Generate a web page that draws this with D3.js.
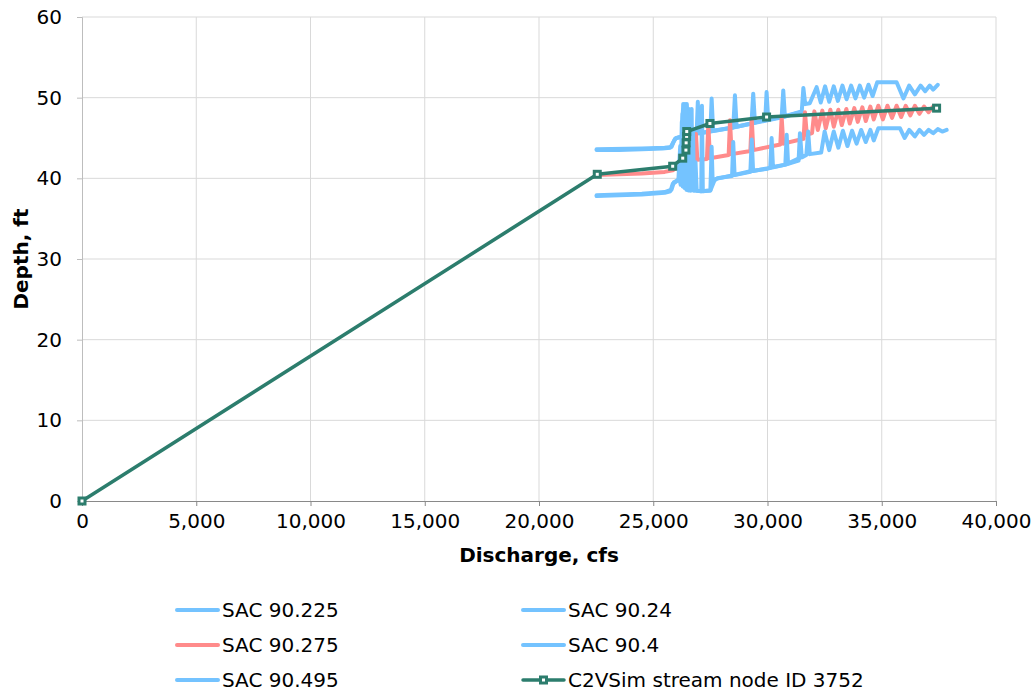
<!DOCTYPE html>
<html>
<head>
<meta charset="utf-8">
<script src="https://cdn.jsdelivr.net/npm/d3@7"></script>
<style>
  body { margin: 0; background: #fff; }
  text { font-family: "DejaVu Sans", Verdana, sans-serif; }
</style>
</head>
<body>
<div id="chart"></div>
<script>
// rating curve data, [discharge cfs, depth ft]
const sac90225 = [[22520,43.5],[23500,43.5],[24500,43.6],[25400,43.7],[25750,43.8],[25900,44.6],[26000,45.0],[26250,45.1],
  [26300,48.5],[26340,45.2],[26380,49.0],[26420,45.3],[26470,49.2],[26520,45.4],[26560,48.6],[26620,45.5],
  [26900,45.6],[26950,49.5],[27000,45.6],[27500,45.8],[27555,49.9],[27620,45.9],[28500,46.3],[28575,50.3],[28650,46.4],
  [29300,46.8],[29375,50.5],[29450,46.9],[29900,47.2],[29960,50.7],[30030,47.3],[30620,47.6],[30690,50.9],[30760,47.7],
  [31500,48.3],[31570,51.2],[31650,49.2],[31850,49.3],[32150,51.3],[32330,49.4],[32520,51.4],[32700,49.5],[32900,51.4],
  [33080,49.6],[33280,51.5],[33460,49.8],[33660,51.5],[33850,49.9],[34040,51.5],[34230,50.0],[34420,51.6],[34600,50.2],
  [34800,51.9],[35650,51.9],[35950,49.9],[36200,51.5],[36450,50.4],[36700,51.5],[36900,50.8],[37100,51.5],[37250,51.0],[37450,51.6]];

const sac9024 = [[22520,43.6],[24500,43.7],[25500,43.8],[25800,43.9],[25950,44.9],[26100,45.1],[26270,45.2],[26310,49.2],
  [26360,45.3],[26430,48.9],[26490,45.4],[26600,45.5],[27000,45.6],[27700,45.9],[28500,46.3],[29300,46.8],[30000,47.2],
  [30700,47.6],[31450,48.2]];

const sac90275 = [[22520,40.4],[23500,40.5],[24500,40.6],[25500,40.8],[25850,41.0],[26050,41.4],[26250,41.6],[26330,44.5],
  [26380,41.7],[26470,46.8],[26520,41.9],[26620,46.2],[26680,42.1],[26800,42.2],[26870,45.5],[26930,42.3],[27350,42.4],
  [27410,46.8],[27480,42.5],[28300,42.9],[28360,47.2],[28430,43.0],[29250,43.4],[29310,47.4],[29380,43.5],[30560,44.2],
  [30620,47.6],[30690,44.3],[31580,44.9],[31640,48.2],[31720,45.4],[31950,45.6],[32050,48.3],[32200,46.0],[32400,48.4],
  [32550,46.2],[32750,48.5],[32900,46.4],[33100,48.5],[33250,46.6],[33450,48.6],[33600,46.8],[33800,48.7],[33950,47.0],
  [34150,48.8],[34300,47.1],[34500,48.9],[34650,47.3],[34850,49.0],[35050,47.3],[35250,49.0],[35450,47.5],[35650,49.0],
  [35850,47.6],[36050,49.0],[36250,47.8],[36450,49.0],[36650,48.0],[36850,48.9],[37050,48.2],[37250,48.9],[37450,48.7]];

const sac904 = [[22520,37.8],[23500,37.9],[24500,38.0],[25500,38.2],[25750,38.4],[25850,39.3],[26000,39.6],[26150,40.0],
  [26200,39.2],[26250,47.0],[26290,39.0],[26330,48.5],[26370,38.8],[26410,49.0],[26450,38.6],[26500,48.2],[26540,38.5],
  [26600,47.0],[26640,38.5],[26700,44.5],[26760,38.5],[27100,38.4],[27130,49.0],[27170,38.4],[27500,38.5],[27555,43.9],
  [27600,39.6],[27800,40.0],[28450,40.3],[28500,44.5],[28560,40.4],[29250,40.8],[29310,44.8],[29370,40.9],[30120,41.3],
  [30180,45.0],[30240,41.4],[30780,41.7],[30840,45.4],[30900,41.8],[31360,42.2],[31420,45.6],[31500,42.6],[31700,42.9],
  [31780,45.8],[31850,43.0],[32350,43.2],[32500,45.8],[32700,43.5],[32900,45.8],[33100,43.8],[33300,45.9],[33500,44.0],
  [33700,45.9],[33900,44.3],[34100,46.0],[34300,44.5],[34500,46.0],[34650,44.7],[34850,46.2],[35800,46.2],[36000,45.0],
  [36200,46.0],[36450,45.2],[36650,46.0],[36850,45.4],[37050,46.0],[37250,45.6],[37450,46.1],[37650,45.8],[37840,46.0]];

const sac90495 = [[22520,37.9],[24500,38.1],[25500,38.3],[25800,38.6],[25900,39.5],[26100,39.8],[26180,44.0],[26220,39.4],
  [26280,48.0],[26310,40.5],[26340,47.5],[26360,38.9],[26390,49.2],[26420,39.5],[26450,47.8],[26480,38.6],[26520,45.0],
  [26560,46.5],[26590,39.0],[26620,48.0],[26650,38.5],[26680,48.6],[26710,40.0],[26740,46.0],[26780,38.5],[26850,42.0],
  [26900,38.5],[27100,38.4],[27500,38.5],[27700,39.9],[28500,40.4],[29300,40.9],[30000,41.2],[30800,41.7],[31400,42.5]];

const c2vsim = [[0,0],[22550,40.5],[25850,41.5],[26290,42.5],[26430,43.5],[26440,44.4],[26460,45.2],[26465,45.8],
  [27480,46.8],[29960,47.6],[37400,48.7]];

const xTicks = [0, 5000, 10000, 15000, 20000, 25000, 30000, 35000, 40000];
const yTicks = [0, 10, 20, 30, 40, 50, 60];

const blue = "#74c3ff", red = "#ff8b8b", green = "#2c7d6d";

const series = [
  { name: "SAC 90.225", data: sac90225, color: blue },
  { name: "SAC 90.24", data: sac9024, color: blue },
  { name: "SAC 90.275", data: sac90275, color: red },
  { name: "SAC 90.4", data: sac904, color: blue },
  { name: "SAC 90.495", data: sac90495, color: blue }
];

const width = 1035, height = 692;
const plot = { left: 82, right: 996, top: 17, bottom: 501 };

const svg = d3.select("#chart").append("svg")
  .attr("width", width)
  .attr("height", height);

const x = d3.scaleLinear().domain([0, 40000]).range([plot.left, plot.right]);
const y = d3.scaleLinear().domain([0, 60]).range([plot.bottom, plot.top]);

// grid
svg.append("g").selectAll("line.v")
  .data(xTicks.slice(1))
  .enter().append("line")
    .attr("x1", d => x(d)).attr("x2", d => x(d))
    .attr("y1", plot.top).attr("y2", plot.bottom)
    .style("stroke", "#d9d9d9");
svg.append("g").selectAll("line.h")
  .data(yTicks.slice(1))
  .enter().append("line")
    .attr("x1", plot.left).attr("x2", plot.right)
    .attr("y1", d => y(d)).attr("y2", d => y(d))
    .style("stroke", "#d9d9d9");

// axes
const xAxis = svg.append("g")
  .attr("transform", `translate(0,${plot.bottom})`)
  .call(d3.axisBottom(x).tickValues(xTicks).tickSize(5).tickPadding(8).tickFormat(d3.format(",")));
const yAxis = svg.append("g")
  .attr("transform", `translate(${plot.left},0)`)
  .call(d3.axisLeft(y).tickValues(yTicks).tickSize(5).tickPadding(15));

[xAxis, yAxis].forEach(g => {
  g.select(".domain").style("stroke", "#898989");
  g.selectAll(".tick line").style("stroke", "#898989");
  g.selectAll("text")
    .attr("font-family", "DejaVu Sans")
    .attr("font-size", "20px")
    .attr("fill", "#000");
});
yAxis.select(".domain").style("stroke", "#bdbdbd");
yAxis.selectAll(".tick line").style("stroke", "#bdbdbd");

svg.append("text")
  .attr("x", (plot.left + plot.right) / 2)
  .attr("y", 562)
  .attr("text-anchor", "middle")
  .attr("font-size", "20px")
  .attr("font-weight", "bold")
  .text("Discharge, cfs");

svg.append("text")
  .attr("transform", `translate(28,${(plot.top + plot.bottom) / 2}) rotate(-90)`)
  .attr("text-anchor", "middle")
  .attr("font-size", "20px")
  .attr("font-weight", "bold")
  .text("Depth, ft");

// lines
const line = d3.line().x(d => x(d[0])).y(d => y(d[1]));

svg.append("g").selectAll("path")
  .data(series)
  .enter().append("path")
    .attr("d", d => line(d.data))
    .style("fill", "none")
    .style("stroke", d => d.color)
    .style("stroke-width", 4)
    .style("stroke-linejoin", "round")
    .style("stroke-linecap", "round");

svg.append("path")
  .attr("d", line(c2vsim))
  .style("fill", "none")
  .style("stroke", green)
  .style("stroke-width", 3.5)
  .style("stroke-linejoin", "round");

svg.append("g").selectAll("rect")
  .data(c2vsim)
  .enter().append("rect")
    .attr("x", d => x(d[0]) - 3)
    .attr("y", d => y(d[1]) - 3)
    .attr("width", 6)
    .attr("height", 6)
    .style("fill", "#fff")
    .style("stroke", green)
    .style("stroke-width", 3);

// legend
const legendItems = [
  { name: "SAC 90.225", color: blue, col: 0, row: 0 },
  { name: "SAC 90.24", color: blue, col: 1, row: 0 },
  { name: "SAC 90.275", color: red, col: 0, row: 1 },
  { name: "SAC 90.4", color: blue, col: 1, row: 1 },
  { name: "SAC 90.495", color: blue, col: 0, row: 2 },
  { name: "C2VSim stream node ID 3752", color: green, col: 1, row: 2, marker: true }
];
const colX = [177, 523], rowY = [610, 645, 680];

const leg = svg.append("g").selectAll("g")
  .data(legendItems)
  .enter().append("g")
    .attr("transform", d => `translate(${colX[d.col]},${rowY[d.row]})`);

leg.append("line")
  .attr("x1", 0).attr("x2", 41)
  .style("stroke", d => d.color)
  .style("stroke-width", d => d.marker ? 3.5 : 4)
  .style("stroke-linecap", "round");

leg.filter(d => d.marker).append("rect")
  .attr("x", 17.5).attr("y", -3)
  .attr("width", 6).attr("height", 6)
  .style("fill", "#fff")
  .style("stroke", green)
  .style("stroke-width", 3);

leg.append("text")
  .attr("x", 45)
  .attr("dy", "0.35em")
  .attr("font-size", "20px")
  .text(d => d.name);
</script>
</body>
</html>
